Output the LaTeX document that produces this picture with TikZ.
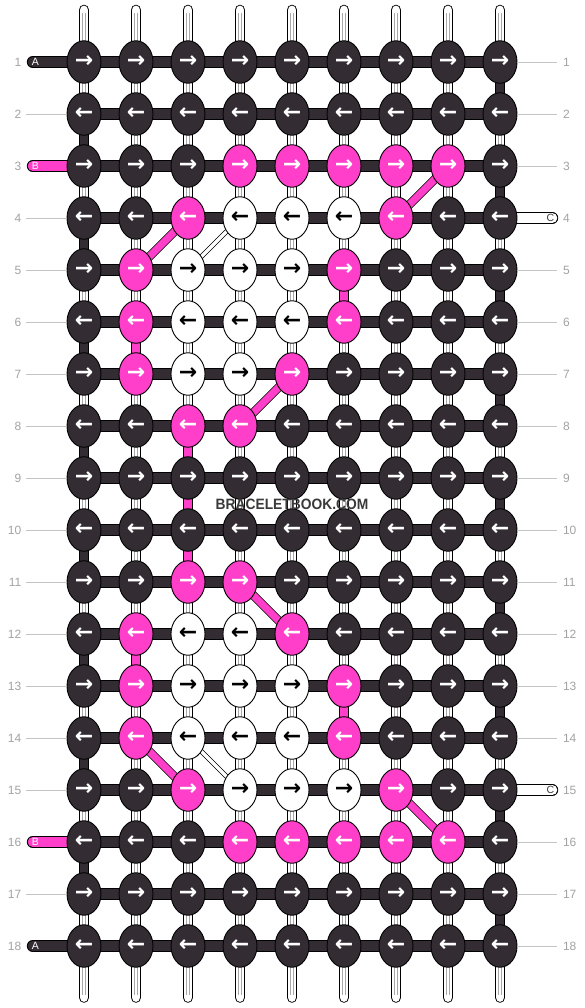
\documentclass[tikz,border=0pt]{standalone}
\usepackage{fontspec}
\setmainfont{Liberation Sans}
\newfontfamily\arrowfont{DejaVu Sans}
\newfontfamily\wmfont{Liberation Sans}[FakeStretch=0.92]
\usetikzlibrary{shapes.geometric}
\pgfdeclarelayer{bg}
\pgfsetlayers{bg,main}
\definecolor{dk}{HTML}{332D33}
\definecolor{pk}{HTML}{FF3EC9}
\definecolor{lbl}{HTML}{A3A3A3}
\definecolor{gln}{HTML}{C4C4C4}
\definecolor{inner}{HTML}{A8A8A8}
\definecolor{wm}{HTML}{3A3A3A}
\colorlet{fD}{dk}\colorlet{fP}{pk}\colorlet{fW}{white}
\colorlet{tD}{white}\colorlet{tP}{white}\colorlet{tW}{black}
\tikzset{
  knot/.style={ellipse, draw=black, line width=0.9pt, minimum width=34pt,
    minimum height=42.5pt, inner sep=0pt,
    font=\arrowfont\bfseries\fontsize{22}{22}\selectfont},
  hbar/.style={draw=black, line width=0.9pt, double=dk, double distance=10pt},
  vseg/.style={draw=black, line width=0.9pt, double=white, double distance=8.8pt},
  vin/.style={draw=inner, line width=0.7pt, double=white, double distance=2.2pt},
  vsegD/.style={draw=black, line width=0.9pt, double=dk, double distance=8.8pt},
  vsegP/.style={draw=black, line width=0.9pt, double=pk, double distance=8.8pt},
  pdiag/.style={draw=black, line width=0.8pt, double=pk, double distance=7.2pt},
  wdiag/.style={draw=black, line width=0.7pt, double=white, double distance=3.5pt},
  pill/.style={draw=black, line width=0.9pt, double distance=10pt, line cap=round},
  gline/.style={draw=gln, line width=0.9pt},
  numL/.style={anchor=east, inner sep=0pt, text=lbl, font=\fontsize{12}{12}\selectfont},
  numR/.style={anchor=west, inner sep=0pt, text=lbl, font=\fontsize{12}{12}\selectfont},
  lett/.style={inner sep=0pt, font=\fontsize{10.5}{10.5}\selectfont}
}
\begin{document}
\begin{tikzpicture}[x=1pt,y=-1pt]
\useasboundingbox (0,0) rectangle (584,1008);
% knots
\foreach \r/\row in {
1/{D,D,D,D,D,D,D,D,D},
2/{D,D,D,D,D,D,D,D,D},
3/{D,D,D,P,P,P,P,P,D},
4/{D,D,P,W,W,W,P,D,D},
5/{D,P,W,W,W,P,D,D,D},
6/{D,P,W,W,W,P,D,D,D},
7/{D,P,W,W,P,D,D,D,D},
8/{D,D,P,P,D,D,D,D,D},
9/{D,D,D,D,D,D,D,D,D},
10/{D,D,D,D,D,D,D,D,D},
11/{D,D,P,P,D,D,D,D,D},
12/{D,P,W,W,P,D,D,D,D},
13/{D,P,W,W,W,P,D,D,D},
14/{D,P,W,W,W,P,D,D,D},
15/{D,D,P,W,W,W,P,D,D},
16/{D,D,D,P,P,P,P,P,D},
17/{D,D,D,D,D,D,D,D,D},
18/{D,D,D,D,D,D,D,D,D}}{
  \foreach \k [count=\c] in \row {
    \node[knot, fill=f\k, text=t\k] (k-\r-\c) at ({32+52*\c},{10+52*\r})
      {\ifodd\r\relax →\else ←\fi};
  }
}
% end coordinates
\foreach \c in {1,...,9}{
  \coordinate (top-\c) at ({32+52*\c},10);
  \coordinate (bot-\c) at ({32+52*\c},997.5);
}
\begin{pgfonlayer}{bg}
  \fill[white] (0,0) rectangle (584,1008);
  % top and bottom strings
  \foreach \c in {1,...,9}{
    \draw[vseg, line cap=round] (top-\c) -- (k-1-\c.center);
    \draw[vin] ([yshift=-3pt]top-\c) -- (k-1-\c.center);
    \draw[vseg, line cap=round] (bot-\c) -- (k-18-\c.center);
    \draw[vin] ([yshift=3pt]bot-\c) -- (k-18-\c.center);
  }
  % vertical segments
  \foreach \r [evaluate=\r as \n using int(\r+1)] in {1,...,17}{
    \foreach \c in {1,...,9}{
      \draw[vseg] (k-\r-\c.center) -- (k-\n-\c.center);
      \draw[vin] (k-\r-\c.center) -- (k-\n-\c.center);
    }
  }
  \foreach \r/\c [evaluate=\r as \n using int(\r+1)] in
    {2/1,4/1,6/1,8/1,10/1,12/1,14/1,16/1,1/9,3/9,5/9,7/9,9/9,11/9,13/9,15/9,17/9}{
    \draw[vsegD] (k-\r-\c.center) -- (k-\n-\c.center);
  }
  \foreach \r/\c [evaluate=\r as \n using int(\r+1)] in
    {5/6,6/2,8/3,9/3,10/3,12/2,13/6}{
    \draw[vsegP] (k-\r-\c.center) -- (k-\n-\c.center);
  }
  % horizontal bars
  \foreach \r in {1,...,18}{
    \foreach \c [evaluate=\c as \n using int(\c+1)] in {1,...,8}{
      \draw[hbar] (k-\r-\c.center) -- (k-\r-\n.center);
    }
  }
  % diagonals
  \draw[pdiag] (k-3-8.center) -- (k-4-7.center);
  \draw[pdiag] (k-4-3.center) -- (k-5-2.center);
  \draw[pdiag] (k-7-5.center) -- (k-8-4.center);
  \draw[pdiag] (k-11-4.center) -- (k-12-5.center);
  \draw[pdiag] (k-14-2.center) -- (k-15-3.center);
  \draw[pdiag] (k-15-7.center) -- (k-16-8.center);
  \draw[wdiag] (k-4-4.center) -- (k-5-3.center);
  \draw[wdiag] (k-14-3.center) -- (k-15-4.center);
  % left strings
  \foreach \r/\col in {1/dk,3/pk,16/pk,18/dk}{
    \coordinate (lp-\r) at (32.7,{10+52*\r});
    \draw[pill, double=\col] (lp-\r) -- (k-\r-1.center);
  }
  % right strings
  \foreach \r in {4,15}{
    \coordinate (rp-\r) at (552.3,{10+52*\r});
    \draw[pill, double=white] (k-\r-9.center) -- (rp-\r);
  }
\end{pgfonlayer}
% letters on strings
\node[lett, text=white] (la-1) at (35.3,62) {A};
\node[lett, text=white] (lb-3) at (35.3,166) {B};
\node[lett, text=white] (lb-16) at (35.3,842) {B};
\node[lett, text=white] (la-18) at (35.3,946) {A};
\node[lett, text=wm] (rc-4) at (550.5,218) {C};
\node[lett, text=wm] (rc-15) at (550.5,790) {C};
% gray guide lines
\foreach \r in {2,4,5,6,7,8,9,10,11,12,13,14,15,17}{
  \coordinate (gl-\r) at (26,{10+52*\r});
  \draw[gline] (gl-\r) -- (k-\r-1);
}
\foreach \r in {1,2,3,5,6,7,8,9,10,11,12,13,14,16,17,18}{
  \coordinate (gr-\r) at (556.5,{10+52*\r});
  \draw[gline] (k-\r-9) -- (gr-\r);
}
% row numbers
\foreach \r in {1,...,18}{
  \node[numL] (nl-\r) at (21.5,{10+52*\r}) {\r};
  \node[numR] (nr-\r) at (562.8,{10+52*\r}) {\r};
}
% watermark
\node[inner sep=0pt, text=wm, font=\wmfont\bfseries\fontsize{15}{15}\selectfont] (wmk) at (292,504) {BRACELETBOOK.COM};
\end{tikzpicture}
\end{document}
